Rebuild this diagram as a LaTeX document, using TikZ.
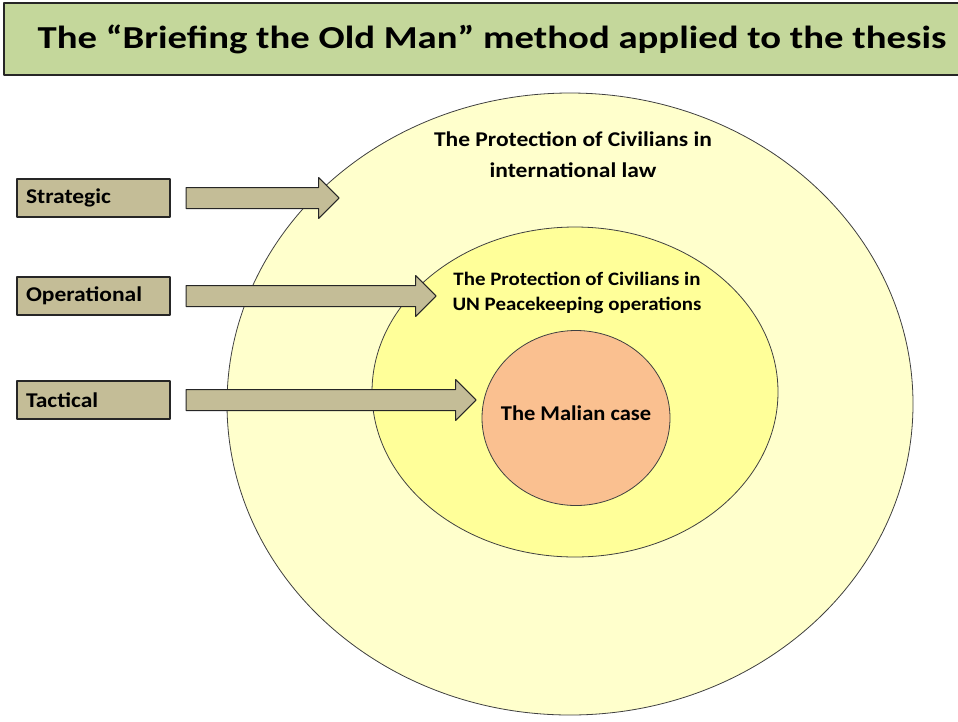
\documentclass[tikz,border=0pt]{standalone}
\usepackage{fontspec}
\setmainfont{Carlito}
\usetikzlibrary{shapes.geometric, shapes.arrows}
\definecolor{titlegreen}{HTML}{C4D79B}
\definecolor{levelbrown}{HTML}{C4BD97}
\definecolor{ringpale}{HTML}{FFFFCC}
\definecolor{ringyellow}{HTML}{FFFF99}
\definecolor{ringorange}{HTML}{FAC090}
\tikzset{
	levelbox/.style={draw=black!85, fill=levelbrown, line width=1.2pt, minimum width=153pt, minimum height=38pt, inner xsep=9pt, inner ysep=5pt, text width=135pt, align=left, font=\fontsize{21}{24}\selectfont\bfseries\addfontfeature{FakeStretch=1.12}},
	levelarrow/.style={single arrow, draw=black!85, fill=levelbrown, line width=1pt, single arrow head extend=10pt, inner sep=0pt, anchor=west},
	ring/.style={ellipse, draw=black!75, line width=0.8pt, inner sep=0pt},
	ringtext/.style={align=center, font=\fontsize{21}{31}\selectfont\bfseries\addfontfeature{FakeStretch=1.12}}
}
\begin{document}
\begin{tikzpicture}[x=1pt, y=-1pt, line join=round]
	\useasboundingbox (0,0) rectangle (958,721);
	% Title
	\node [draw=black!85, fill=titlegreen, line width=1.2pt, minimum width=976pt, minimum height=72pt, font=\fontsize{32}{38}\selectfont\bfseries\addfontfeature{FakeStretch=1.21}] (title) at (492,39) {The “Briefing the Old Man” method applied to the thesis};
	% Rings
	\node [ring, fill=ringpale, minimum width=686pt, minimum height=622pt] (ring-1) at (570,404) {};
	\node [ring, fill=ringyellow, minimum width=406pt, minimum height=330pt] (ring-2) at (575,392) {};
	\node [ring, fill=ringorange, minimum width=188pt, minimum height=175pt] (ring-3) at (576,418) {};
	% Ring labels
	\node [ringtext] (text-1) at (573,155) {The Protection of Civilians in\\international law};
	\node [ringtext, font=\fontsize{19}{25}\selectfont\bfseries\addfontfeature{FakeStretch=1.1}] (text-2) at (577,293) {The Protection of Civilians in\\UN Peacekeeping operations};
	\node [ringtext, font=\fontsize{21}{24}\selectfont\bfseries\addfontfeature{FakeStretch=1.07}] (text-3) at (576,413) {The Malian case};
	% Levels and arrows
	\foreach \name/\y/\len [count=\i] in {Strategic/198/153, Operational/296/250, Tactical/400/290} {
		\node [levelbox] (level-\i) at (93.5,\y) {\name};
		\node [levelarrow, minimum height=\len pt] (arrow-\i) at ([xshift=15pt]level-\i.east) {\rule{0pt}{20pt}};
	}
\end{tikzpicture}
\end{document}
